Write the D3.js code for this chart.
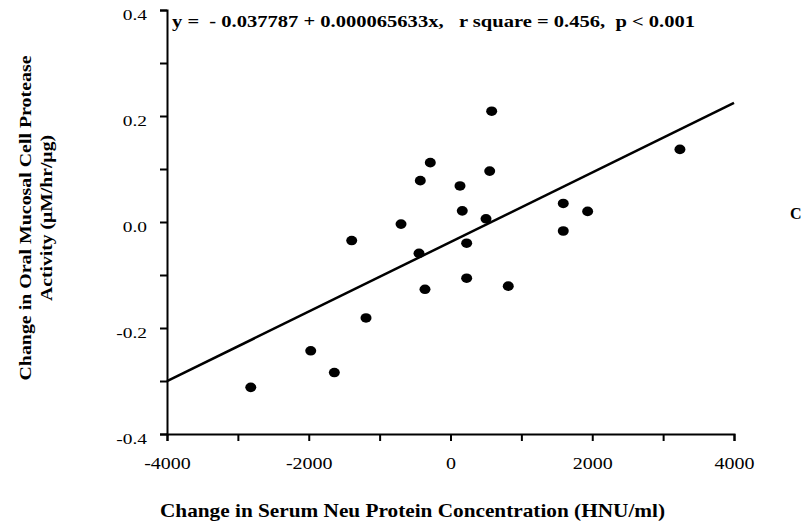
<!DOCTYPE html>
<html>
<head>
<meta charset="utf-8">
<script src="https://cdn.jsdelivr.net/npm/d3@7/dist/d3.min.js"></script>
<style>
  body { margin: 0; background: #fff; }
  text { font-family: "Liberation Serif", "Times New Roman", serif; fill: #000; }
  .axis path, .axis line { stroke: #000; stroke-width: 2; }
</style>
</head>
<body>
<script>
// change in serum neu (HNU/ml) vs change in protease activity
var neuChange = [-2818, -1972, -1639, -1192, -1394, -698, -444, -360, -426, -285, 134,
                 581, 553, 166, 501, 228, 228, 815, 1591, 1935, 1591, 3237];
var proteaseChange = [-0.312, -0.243, -0.284, -0.181, -0.035, -0.004, -0.059, -0.127, 0.078, 0.112, 0.068,
                      0.209, 0.096, 0.021, 0.006, -0.040, -0.106, -0.121, 0.035, 0.020, -0.017, 0.137];
var intercept = -0.037787, slope = 0.000065633;
var xTicks = [-4000, -3000, -2000, -1000, 0, 1000, 2000, 3000, 4000],
    yTicks = [-0.4, -0.3, -0.2, -0.1, 0, 0.1, 0.2, 0.3, 0.4];
var eqText = "y =  - 0.037787 + 0.000065633x,   r square = 0.456,  p < 0.001";

var W = 802, H = 525;
var x = d3.scaleLinear().domain([-4000, 4000]).range([167, 734]),
    y = d3.scaleLinear().domain([-0.4, 0.4]).range([434, 10]);

// the scanned figure has wide lettering, so stretch text horizontally
function stretch(sel, k) {
  sel.each(function() {
    var w = this.getComputedTextLength();
    d3.select(this).attr("textLength", w * k).attr("lengthAdjust", "spacingAndGlyphs");
  });
}

var svg = d3.select("body").append("svg")
    .attr("width", W)
    .attr("height", H);

// x axis, labels every 2000 (plain hyphen minus like the original)
var xLabels = svg.append("g")
    .attr("class", "axis")
    .attr("transform", "translate(0," + y(-0.4) + ")")
    .call(d3.axisBottom(x).tickValues(xTicks).tickSizeOuter(0).tickSize(7)
      .tickFormat(function(d) { return d % 2000 === 0 ? String(d) : ""; }))
  .selectAll("text")
    .attr("y", 35)
    .attr("dy", 0)
    .style("font-family", "'Liberation Serif', serif")
    .style("font-size", "16px");
stretch(xLabels, 1.25);

// y axis, labels every 0.2
var yLabels = svg.append("g")
    .attr("class", "axis")
    .attr("transform", "translate(" + x(-4000) + ",0)")
    .call(d3.axisLeft(y).tickValues(yTicks).tickSizeOuter(0).tickSize(7)
      .tickFormat(function(d) { return Math.round(d * 10) % 2 === 0 ? d.toFixed(1) : ""; }))
  .selectAll("text")
    .attr("x", -20)
    .attr("dy", "0.62em")
    .style("font-family", "'Liberation Serif', serif")
    .style("font-size", "15.5px");
stretch(yLabels, 1.25);

// regression line
svg.append("line")
    .attr("x1", x(-4000)).attr("y1", y(intercept + slope * -4000))
    .attr("x2", x(4000)).attr("y2", y(intercept + slope * 4000))
    .attr("stroke", "#000")
    .attr("stroke-width", 2.5);

// points
svg.append("g").selectAll("ellipse")
    .data(neuChange)
  .enter().append("ellipse")
    .attr("cx", function(d) { return x(d); })
    .attr("cy", function(d, i) { return y(proteaseChange[i]); })
    .attr("rx", 5.5)
    .attr("ry", 4.8)
    .attr("fill", "#000");

// equation
svg.append("text")
    .attr("x", 172)
    .attr("y", 27)
    .attr("textLength", 523)
    .attr("lengthAdjust", "spacingAndGlyphs")
    .style("font-size", "16px")
    .style("font-weight", "bold")
    .style("white-space", "pre")
    .text(eqText);

// axis titles
svg.append("text")
    .attr("x", 160)
    .attr("y", 517)
    .attr("textLength", 505)
    .attr("lengthAdjust", "spacingAndGlyphs")
    .style("font-size", "19px")
    .style("font-weight", "bold")
    .text("Change in Serum Neu Protein Concentration (HNU/ml)");

var yTitle = svg.append("text")
    .attr("transform", "translate(31,218) rotate(-90)")
    .attr("text-anchor", "middle")
    .style("font-size", "17px")
    .style("font-weight", "bold");
yTitle.append("tspan").attr("x", 0).attr("y", 0)
    .attr("textLength", 325).attr("lengthAdjust", "spacingAndGlyphs")
    .text("Change in Oral Mucosal Cell Protease");
yTitle.append("tspan").attr("x", 0).attr("y", 21)
    .attr("textLength", 166).attr("lengthAdjust", "spacingAndGlyphs")
    .text("Activity (\u00b5M/hr/\u00b5g)");

// stray letter at right edge of the scan
svg.append("text")
    .attr("x", 790)
    .attr("y", 219)
    .style("font-size", "16px")
    .style("font-weight", "bold")
    .text("C");
</script>
</body>
</html>
